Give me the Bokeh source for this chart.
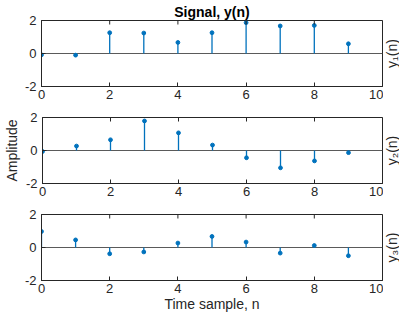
import numpy as np
from bokeh.plotting import figure
from bokeh.layouts import column, row
from bokeh.models import FixedTicker, Span, Range1d, ColumnDataSource, Title
from bokeh.core.properties import value
from bokeh.embed import file_html
from bokeh.resources import INLINE

# ---- data ----
n = [0, 1, 2, 3, 4, 5, 6, 7, 8, 9]
y1 = [-0.08, -0.10, 1.26, 1.24, 0.67, 1.26, 1.87, 1.67, 1.70, 0.59]
y2 = [-0.06, 0.27, 0.65, 1.79, 1.07, 0.33, -0.44, -1.05, -0.63, -0.13]
y3 = [0.97, 0.46, -0.38, -0.27, 0.27, 0.67, 0.33, -0.34, 0.12, -0.50]
series = [y1, y2, y3]
right_labels = ["y\u2081(n)", "y\u2082(n)", "y\u2083(n)"]
x_ticks = [0, 2, 4, 6, 8, 10]
x_tick_labels = ["0", "2", "4", "6", "8", "10"]
y_ticks = [-2, 0, 2]
y_tick_labels = ["-2", "0", "2"]
x_lim = (0, 10)
y_lim = (-2, 2)
title_text = "Signal, y(n)"
ylabel_text = "Amplitude"
xlabel_text = "Time sample, n"

# ---- style ----
FONT = "Liberation Sans"
AX = "#262626"
BLUE = "#0072BD"
BASE = "#5a5a5a"

heights = [108, 97, 111]
tops = [20, 9, 9]
bottoms = [22, 22, 36]
MAIN_W = 383
LAB_W = 16

rows = []
bottom_axes = []
left_axes = []
mains = []
for i in range(3):
    p = figure(width=MAIN_W, height=heights[i],
               x_range=Range1d(*x_lim), y_range=Range1d(*y_lim),
               output_backend="svg", toolbar_location=None, title=None,
               min_border_left=41, min_border_right=1,
               min_border_top=tops[i], min_border_bottom=bottoms[i])
    p.background_fill_color = "white"
    p.border_fill_color = "white"
    p.outline_line_color = AX
    p.outline_line_alpha = 1.0
    p.outline_line_width = 1
    p.grid.visible = False

    xb = p.xaxis[0]
    yl = p.yaxis[0]
    for ax in (xb, yl):
        ax.axis_line_color = AX
        ax.major_tick_line_color = AX
        ax.major_tick_in = 4
        ax.major_tick_out = 0
        ax.minor_tick_line_color = None
        ax.major_label_text_font = FONT
        ax.major_label_text_font_size = "13px"
        ax.major_label_text_color = AX
        ax.axis_label_text_font = FONT
        ax.axis_label_text_font_size = "14px"
        ax.axis_label_text_font_style = "normal"
        ax.axis_label_text_color = AX
    xb.ticker = FixedTicker(ticks=x_ticks)
    xb.major_label_overrides = dict(zip(x_ticks, x_tick_labels))
    xb.major_label_standoff = 3
    yl.ticker = FixedTicker(ticks=y_ticks)
    yl.major_label_overrides = dict(zip(y_ticks, y_tick_labels))
    yl.major_label_standoff = 5
    bottom_axes.append(xb)
    left_axes.append(yl)

    p.add_layout(Span(location=0, dimension="width", line_color=BASE,
                      line_width=1, level="underlay"))

    src = ColumnDataSource(dict(n=n, y=series[i]))
    p.segment(x0="n", y0=0, x1="n", y1="y", source=src, line_color=BLUE, line_width=1.3)
    p.scatter(x="n", y="y", source=src, size=3.8, fill_color=BLUE, line_color=BLUE)

    # inward tick marks along the top edge (half of each dash is clipped by the frame)
    top_src = ColumnDataSource(dict(x=x_ticks, y=[y_lim[1]] * len(x_ticks)))
    p.scatter(x="x", y="y", source=top_src, marker="dash", angle=np.pi / 2,
              size=8, line_color=AX, line_width=1)
    mains.append(p)

    # narrow companion figure holding the right-hand y_k(n) label
    q = figure(width=LAB_W, height=heights[i],
               x_range=Range1d(0, 1), y_range=Range1d(*y_lim),
               output_backend="svg", toolbar_location=None, title=None,
               min_border_left=0, min_border_right=0,
               min_border_top=tops[i], min_border_bottom=bottoms[i])
    q.axis.visible = False
    q.grid.visible = False
    q.outline_line_color = None
    q.background_fill_color = "white"
    q.border_fill_color = "white"
    q.text(x=[0.5], y=[(y_lim[0] + y_lim[1]) / 2], text=[right_labels[i]],
           angle=np.pi / 2, text_align="center", text_baseline="middle",
           text_font=value(FONT), text_font_size="14px", text_color=AX)
    rows.append(row(p, q, spacing=0))

mains[0].title = Title(text=title_text, align="center", text_font=FONT,
                       text_font_size="14px", text_font_style="bold",
                       text_color="#000000", standoff=2)
left_axes[1].axis_label = ylabel_text
left_axes[1].axis_label_standoff = 3
bottom_axes[2].axis_label = xlabel_text
bottom_axes[2].axis_label_standoff = 0

layout = column(*rows, spacing=0)
open("out.html", "w").write(file_html(layout, INLINE))
